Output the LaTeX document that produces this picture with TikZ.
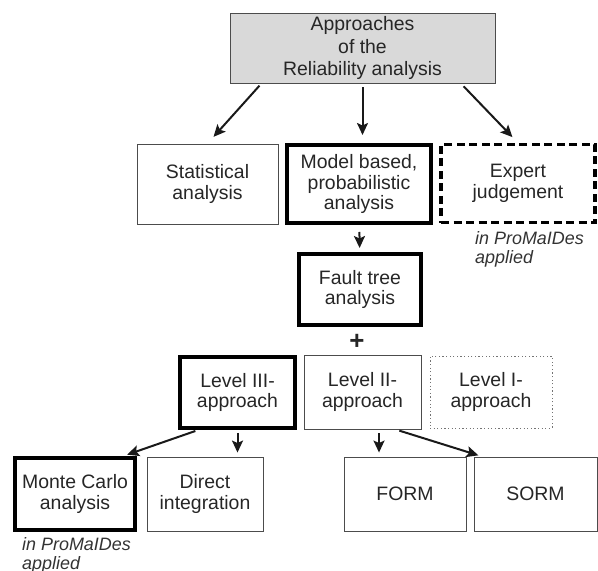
\documentclass[tikz,border=0pt]{standalone}
\usepackage{fontspec}
\setmainfont{Liberation Sans}
\usetikzlibrary{arrows.meta,calc}

\begin{document}
\begin{tikzpicture}[
    x=1bp,y=-1bp,
    every node/.style={font=\fontsize{19.5}{21}\selectfont,text=black!85,align=center,inner sep=0pt},
    box/.style={rectangle,draw=black!70,line width=.9pt},
    thick box/.style={rectangle,draw=black,line width=4pt},
    dash box/.style={rectangle,draw=black,line width=3.2pt,dash pattern=on 8bp off 4.5bp},
    dot box/.style={rectangle,draw=black!55,line width=1pt,dash pattern=on 1.2bp off 2.4bp},
    note/.style={font=\fontsize{18}{19}\selectfont\itshape,align=left,text=black!80,anchor=north west},
    a/.style={-{Stealth[length=12bp,width=11bp,inset=2.5bp]},line width=2bp,black!90}
  ]
    \useasboundingbox (0,0) rectangle (598,571);
    % top
    \node[box,fill=gray!30,font=\fontsize{19.5}{22.5}\selectfont,minimum width=265bp,minimum height=70bp] (top) at (362.5,48)
      {Approaches\\of the\\Reliability analysis};
    % first row
    \node[box,minimum width=141bp,minimum height=80bp] (stat) at (207.5,184) {Statistical\\analysis};
    \node[thick box,minimum width=144bp,minimum height=78bp] (model) at (359,184) {Model based,\\probabilistic\\analysis};
    \node[dash box,minimum width=154bp,minimum height=78bp] (expert) at (518,183.5) {Expert\\judgement};
    \node[note] (n1) at (475,231) {in ProMaIDes\\applied};
    \node[thick box,minimum width=122bp,minimum height=71bp] (fault) at (360,289.5) {Fault tree\\analysis};
    \node[font=\fontsize{26}{26}\selectfont\bfseries] (plus) at (357,342) {+};
    % levels
    \node[thick box,minimum width=115bp,minimum height=71bp] (lvl3) at (237.5,392.5) {Level III-\\approach};
    \node[box,minimum width=117bp,minimum height=74bp] (lvl2) at (362.5,392) {Level II-\\approach};
    \node[dot box,minimum width=122bp,minimum height=72bp] (lvl1) at (491,392) {Level I-\\approach};
    % methods
    \node[thick box,minimum width=120bp,minimum height=72bp] (monte) at (75,494) {Monte Carlo\\analysis};
    \node[box,minimum width=116bp,minimum height=74bp] (direct) at (205,494) {Direct\\integration};
    \node[box,minimum width=122bp,minimum height=74bp] (form) at (405,494) {FORM};
    \node[box,minimum width=123bp,minimum height=74bp] (sorm) at (535.5,494) {SORM};
    \node[note] (n2) at (22,537) {in ProMaIDes\\applied};
    % arrows
    \coordinate (t1) at ($(top.south west)!.12!(top.south east)$);
    \coordinate (t3) at ($(top.south west)!.87!(top.south east)$);
    \draw[a,shorten <=3bp,shorten >=9bp] (t1) -- (stat.north);
    \draw[a,shorten <=4bp,shorten >=8bp] (top.south) -- (top.south |- model.north);
    \draw[a,shorten <=4bp,shorten >=8bp] (t3) -- (expert.north);
    \draw[a,shorten <=7bp,shorten >=4bp] (model) -- (fault);
    \coordinate (l3a) at ($(lvl3.south west)!.17!(lvl3.south east)$);
    \coordinate (mca) at ($(monte.north west)!.89!(monte.north east)$);
    \coordinate (l2a) at ($(lvl2.south west)!.64!(lvl2.south east)$);
    \coordinate (l2b) at ($(lvl2.south west)!.78!(lvl2.south east)$);
    \coordinate (sma) at ($(sorm.north west)!.07!(sorm.north east)$);
    \draw[a,shorten <=3bp,shorten >=4bp] (l3a) -- (mca);
    \draw[a,shorten <=3bp,shorten >=4bp] (lvl3.south) -- (lvl3.south |- direct.north);
    \draw[a,shorten <=4bp,shorten >=4bp] (l2a) -- (l2a |- form.north);
    \draw[a,shorten <=4bp,shorten >=4bp] (l2b) -- (sma);
\end{tikzpicture}
\end{document}
